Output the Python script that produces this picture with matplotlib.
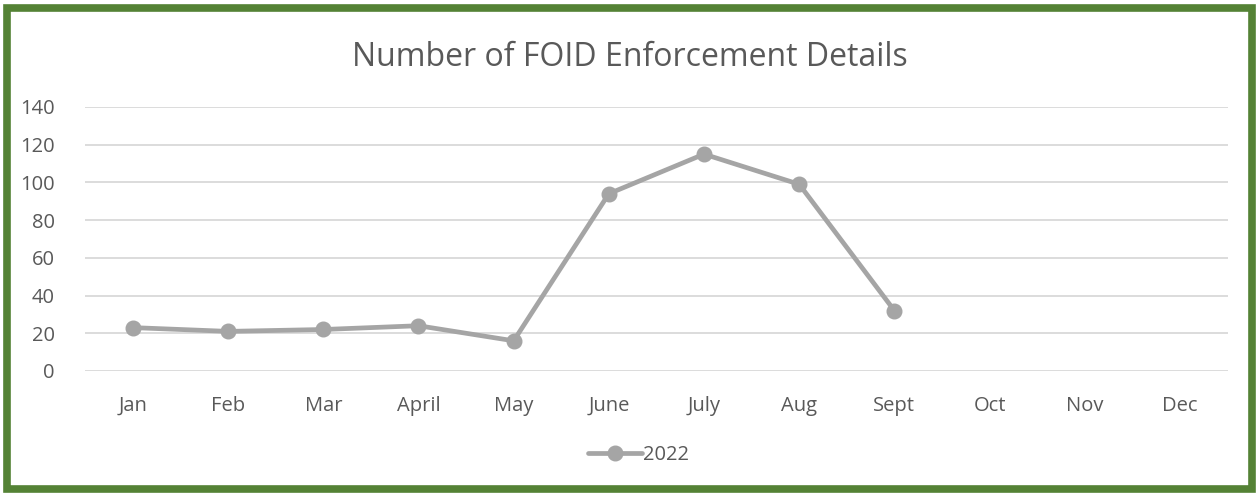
import matplotlib
matplotlib.use("Agg")
import matplotlib.pyplot as plt
from matplotlib.patches import Rectangle

months = ["Jan", "Feb", "Mar", "April", "May", "June", "July", "Aug", "Sept",
          "Oct", "Nov", "Dec"]
counts_2022 = [23, 21, 22, 24, 16, 94, 115, 99, 32]
yticks = [0, 20, 40, 60, 80, 100, 120, 140]

plt.rcParams['font.family'] = ['Open Sans', 'DejaVu Sans']

fig = plt.figure(figsize=(12.59, 4.93), dpi=100)
ax = fig.add_axes([0.0678, 0.2475, 0.9072, 0.5355])

x = list(range(len(months)))
ax.plot(x[:len(counts_2022)], counts_2022, color="#A5A5A5", linewidth=3.4,
        marker="o", markersize=10.5, label="2022", solid_capstyle="round")

ax.set_xlim(-0.5, len(months) - 0.5)
ax.set_ylim(0, 140)
ax.set_yticks(yticks)
ax.set_xticks(x)
ax.set_xticklabels(months)
ax.grid(axis="y", color="#D9D9D9", linewidth=1.3)
ax.set_axisbelow(True)
for s in ax.spines.values():
    s.set_visible(False)
ax.tick_params(length=0, labelsize=14.5, labelcolor="#595959")
ax.tick_params(axis="x", pad=18)
ax.tick_params(axis="y", pad=22)

fig.text(0.5, 0.884, "Number of FOID Enforcement Details", ha="center",
         va="center", fontsize=23, color="#595959")

leg = fig.legend(loc="center", bbox_to_anchor=(0.507, 0.077), frameon=False,
                 fontsize=14.5, handlelength=2.7, handletextpad=0.05)
for t in leg.get_texts():
    t.set_color("#595959")

fig.patches.append(Rectangle((0.0055, 0.0085), 0.989, 0.9755, transform=fig.transFigure,
                             fill=False, edgecolor="#548235", linewidth=5.5))

fig.savefig("out.png", dpi=100)
